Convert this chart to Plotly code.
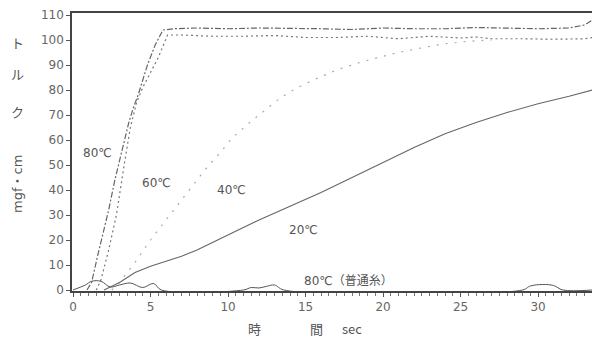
import plotly.graph_objects as go

# Torque vs. time for heated yarn at several temperatures
t80 = [0.9, 1.2, 1.6, 2.0, 2.3, 2.7, 3.2, 3.6, 3.9, 4.2, 4.8, 5.3, 5.8, 6.5, 8, 10, 12, 14, 16, 18, 20, 22, 24, 26, 28, 30, 32, 33, 33.5]
v80 = [0, 3, 14, 24, 32, 44, 57, 67, 73, 78, 90, 98, 104, 104.5, 104.8, 104.5, 104.8, 104.5, 104.5, 104.2, 104.8, 104.5, 104.5, 105, 104.6, 104.5, 104.8, 106, 108]

t60 = [1.5, 1.8, 2.3, 2.8, 3.3, 3.7, 4.1, 4.5, 5.0, 5.5, 5.9, 6.1, 7, 9, 11, 13, 15, 17, 19, 21, 23, 25, 26, 27, 29, 31, 33, 33.5]
v60 = [0, 4, 16, 30, 50, 65, 75, 81, 87, 93, 99, 102, 102, 101.5, 101.5, 101.8, 101, 101, 101.5, 100.5, 101.5, 100.8, 101.2, 100.5, 100.5, 100.3, 100.5, 101]

t40 = [2.5, 3, 4, 5, 6, 6.5, 7.5, 8.5, 9.5, 10.3, 11.4, 12.4, 13.4, 14.5, 15.5, 17, 18.5, 20, 21, 22.6, 24, 25.5, 27]
v40 = [0, 3, 11, 20, 28, 32, 40, 48, 55, 61, 67, 72, 77, 81, 84, 88, 91, 93.5, 95, 97, 98.5, 99.5, 100]

t20 = [2, 3, 4, 5, 6, 7, 8, 10, 12, 14, 16, 18, 20, 22, 24, 26, 28, 30, 32, 33.5]
v20 = [0, 3, 7, 9.5, 11.5, 13.5, 16, 22, 28, 33.5, 39, 45, 51, 57, 62.5, 67, 71, 74.5, 77.5, 80]

# ordinary yarn at 80℃ stays near zero
t80n = [0, 0.8, 1.2, 1.8, 2.4, 3.0, 3.7, 4.5, 5.2, 5.7, 11, 11.5, 12, 12.5, 13, 13.6, 29, 29.5, 30.3, 31, 31.6, 33.5]
v80n = [0, 2, 3.5, 3.5, 1.2, 2, 2.8, 1, 2.6, 0, 0, 1, 0.8, 1.5, 2, 0, 0, 1.6, 2.2, 1.8, 0, 0]

x_ticks = [0, 5, 10, 15, 20, 25, 30]
y_ticks = [0, 10, 20, 30, 40, 50, 60, 70, 80, 90, 100, 110]

ink = "#555555"
font = dict(family="DejaVu Sans, Noto Sans CJK JP", size=11, color=ink)
tick_font = dict(family="DejaVu Sans", size=12, color="#666666")
cjk_font = dict(family="Noto Sans CJK JP", size=13, color=ink)

fig = go.Figure()
fig.add_trace(go.Scatter(x=t80, y=v80, mode="lines",
                         line=dict(color="#666666", width=1.2, dash="6px,2px,2px,2px")))
fig.add_trace(go.Scatter(x=t60, y=v60, mode="lines",
                         line=dict(color="#777777", width=1.2, dash="2px,3px")))
fig.add_trace(go.Scatter(x=t40, y=v40, mode="lines",
                         line=dict(color="#aaaaaa", width=1.2, dash="2px,7px")))
fig.add_trace(go.Scatter(x=t20, y=v20, mode="lines",
                         line=dict(color="#666666", width=1.1)))
fig.add_trace(go.Scatter(x=t80n, y=v80n, mode="lines", line_shape="spline",
                         line=dict(color="#555555", width=1)))

labels = [
    (1.6, 55, "80℃"),
    (5.4, 43, "60℃"),
    (10.2, 40, "40℃"),
    (14.9, 24, "20℃"),
    (17.8, 4, "80℃（普通糸）"),
]
for x, y, txt in labels:
    fig.add_annotation(x=x, y=y, text=txt, showarrow=False,
                       font=dict(family="DejaVu Sans, Noto Sans CJK JP", size=12, color=ink))


def paper_x(px):
    return (px - 72) / 520


def paper_y(py):
    return (291 - py) / 278


# vertical axis title: トルク then unit
for yy, ch in [(42, "ト"), (73, "ル"), (111, "ク")]:
    fig.add_annotation(xref="paper", yref="paper", x=paper_x(17), y=paper_y(yy),
                       xanchor="center", yanchor="middle", text=ch, showarrow=False,
                       font=cjk_font)
fig.add_annotation(xref="paper", yref="paper", x=paper_x(17), y=paper_y(184),
                   xanchor="center", yanchor="middle",
                   text="mgf・cm", textangle=-90, showarrow=False,
                   font=dict(family="DejaVu Sans, Noto Sans CJK JP", size=13, color=ink))

# horizontal axis title: 時  間  sec
for xx, txt in [(254, "時"), (316, "間"), (352, "sec")]:
    fig.add_annotation(xref="paper", yref="paper", x=paper_x(xx), y=paper_y(328),
                       xanchor="center", yanchor="middle",
                       text=txt, showarrow=False, font=cjk_font)

fig.update_layout(
    width=592, height=345,
    margin=dict(l=72, r=0, t=13, b=54),
    paper_bgcolor="white", plot_bgcolor="white",
    showlegend=False,
    font=font,
    xaxis=dict(range=[-0.065, 33.48], tickvals=x_ticks, showgrid=False, zeroline=False,
               showline=True, linecolor="#444444", linewidth=1.5, mirror=True,
               ticks="outside", ticklen=4, tickcolor="#555555",
               minor=dict(dtick=0.5, ticks="outside", ticklen=3, tickcolor="#777777"),
               tickfont=tick_font),
    yaxis=dict(range=[-0.4, 110.8], tickvals=y_ticks, showgrid=False, zeroline=False,
               showline=True, linecolor="#444444", linewidth=1.5,
               ticks="outside", ticklen=4, tickcolor="#555555",
               tickfont=tick_font),
)

fig.write_html("out.html")
